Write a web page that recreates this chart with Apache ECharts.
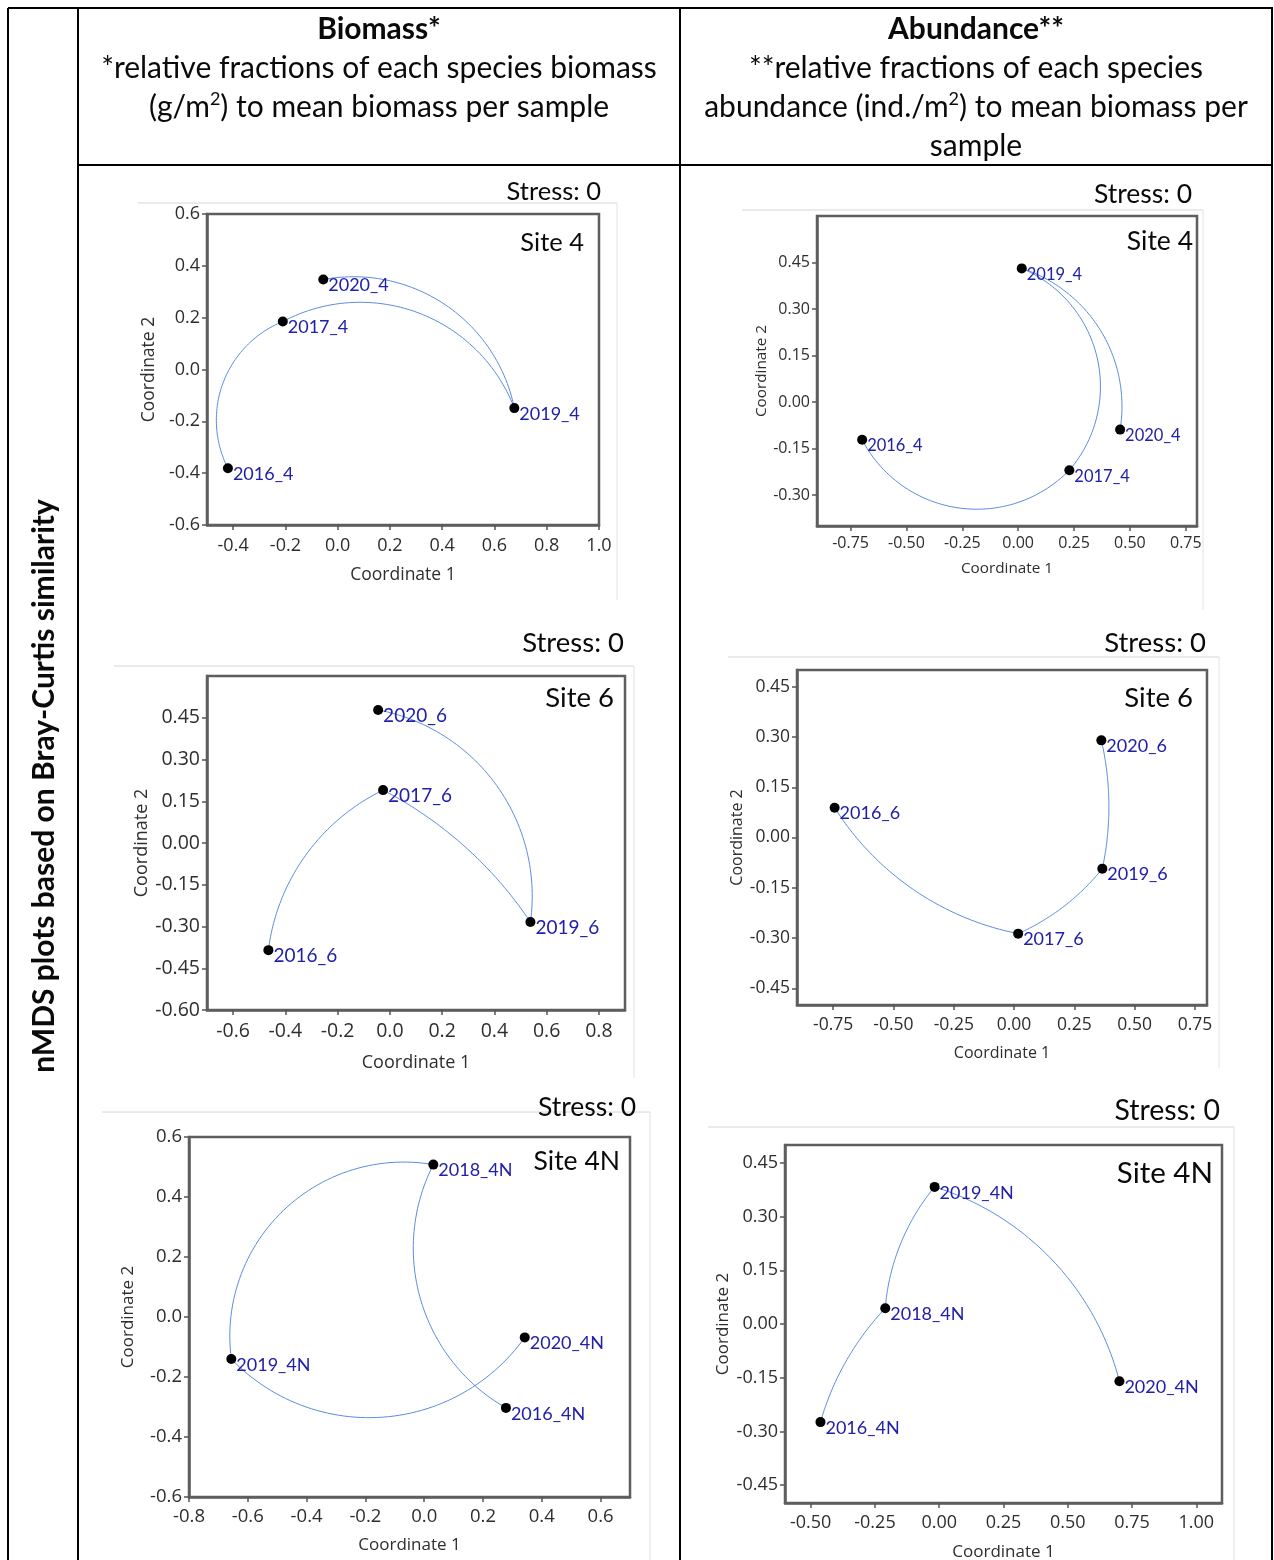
<!DOCTYPE html>
<html>
<head>
<meta charset="utf-8">
<script src="https://cdn.jsdelivr.net/npm/echarts@6/dist/echarts.min.js"></script>
<style>
  html, body { margin: 0; padding: 0; background: #ffffff; }
  #chart { width: 1274px; height: 1560px; }
</style>
</head>
<body>
<div id="chart"></div>
<script>
// ---------- nMDS ordination scores (Bray-Curtis) ----------

// Biomass, Site 4
const bio4Samples = ['2016_4', '2017_4', '2019_4', '2020_4'];
const bio4Coord1  = [-0.420, -0.210, 0.676, -0.055];
const bio4Coord2  = [-0.381,  0.185, -0.149, 0.347];
const bio4Links   = [['2016_4', '2017_4'], ['2017_4', '2019_4'], ['2020_4', '2019_4']];
const bio4XTicks  = ['-0.4', '-0.2', '0.0', '0.2', '0.4', '0.6', '0.8', '1.0'];
const bio4YTicks  = ['-0.6', '-0.4', '-0.2', '0.0', '0.2', '0.4', '0.6'];

// Abundance, Site 4
const abu4Samples = ['2016_4', '2017_4', '2019_4', '2020_4'];
const abu4Coord1  = [-0.698, 0.229, 0.016, 0.456];
const abu4Coord2  = [-0.122, -0.220, 0.431, -0.089];
const abu4Links   = [['2019_4', '2017_4'], ['2019_4', '2020_4'], ['2016_4', '2017_4']];
const abu4XTicks  = ['-0.75', '-0.50', '-0.25', '0.00', '0.25', '0.50', '0.75'];
const abu4YTicks  = ['-0.30', '-0.15', '0.00', '0.15', '0.30', '0.45'];

// Biomass, Site 6
const bio6Samples = ['2016_6', '2017_6', '2019_6', '2020_6'];
const bio6Coord1  = [-0.465, -0.026, 0.538, -0.045];
const bio6Coord2  = [-0.385,  0.190, -0.284, 0.478];
const bio6Links   = [['2016_6', '2017_6'], ['2017_6', '2019_6'], ['2020_6', '2019_6']];
const bio6XTicks  = ['-0.6', '-0.4', '-0.2', '0.0', '0.2', '0.4', '0.6', '0.8'];
const bio6YTicks  = ['-0.60', '-0.45', '-0.30', '-0.15', '0.00', '0.15', '0.30', '0.45'];

// Abundance, Site 6
const abu6Samples = ['2016_6', '2017_6', '2019_6', '2020_6'];
const abu6Coord1  = [-0.744, 0.017, 0.366, 0.362];
const abu6Coord2  = [ 0.089, -0.287, -0.093, 0.290];
const abu6Links   = [['2020_6', '2019_6'], ['2019_6', '2017_6'], ['2016_6', '2017_6']];
const abu6XTicks  = ['-0.75', '-0.50', '-0.25', '0.00', '0.25', '0.50', '0.75'];
const abu6YTicks  = ['-0.45', '-0.30', '-0.15', '0.00', '0.15', '0.30', '0.45'];

// Biomass, Site 4N
const bio4NSamples = ['2016_4N', '2018_4N', '2019_4N', '2020_4N'];
const bio4NCoord1  = [0.278, 0.031, -0.656, 0.342];
const bio4NCoord2  = [-0.303, 0.508, -0.140, -0.068];
const bio4NLinks   = [['2018_4N', '2019_4N'], ['2018_4N', '2016_4N'], ['2019_4N', '2020_4N']];
const bio4NXTicks  = ['-0.8', '-0.6', '-0.4', '-0.2', '0.0', '0.2', '0.4', '0.6'];
const bio4NYTicks  = ['-0.6', '-0.4', '-0.2', '0.0', '0.2', '0.4', '0.6'];

// Abundance, Site 4N
const abu4NSamples = ['2016_4N', '2018_4N', '2019_4N', '2020_4N'];
const abu4NCoord1  = [-0.462, -0.210, -0.018, 0.701];
const abu4NCoord2  = [-0.274,  0.044,  0.383, -0.160];
const abu4NLinks   = [['2016_4N', '2018_4N'], ['2018_4N', '2019_4N'], ['2019_4N', '2020_4N']];
const abu4NXTicks  = ['-0.50', '-0.25', '0.00', '0.25', '0.50', '0.75', '1.00'];
const abu4NYTicks  = ['-0.45', '-0.30', '-0.15', '0.00', '0.15', '0.30', '0.45'];

// ---------- layout and style of the six panels ----------
const FRAME = '#5e5e5e';
const TICK_TEXT = '#2e2e2e';
const POINT_TEXT = '#2020a8';
const LINK_COLOR = '#5b8de0';
const SANS = 'Lato, "Open Sans", sans-serif';
const AXIS_SANS = '"Open Sans", "Noto Sans", sans-serif';

const panels = [
  { samples: bio4Samples, c1: bio4Coord1, c2: bio4Coord2, links: bio4Links, xTicks: bio4XTicks, yTicks: bio4YTicks,
    bends: [0.22, 0.225, 0.205], site: 'Site 4',
    left: 207, top: 214, width: 392, height: 311, xRange: [-0.5, 1.0], yRange: [-0.6, 0.6],
    tickFont: 18, nameFont: 17.5, xGap: 41, yGap: 49, xMargin: 12, pointFont: 18,
    stress: [601, 192, 25.5], siteText: [584, 243, 25.5], edge: [138, 203, 617, 600] },
  { samples: abu4Samples, c1: abu4Coord1, c2: abu4Coord2, links: abu4Links, xTicks: abu4XTicks, yTicks: abu4YTicks,
    bends: [0.255, 0.185, -0.255], site: 'Site 4',
    left: 817, top: 216, width: 380, height: 310, xRange: [-0.9, 0.8], yRange: [-0.4, 0.6],
    tickFont: 16, nameFont: 15.3, xGap: 35, yGap: 44, xMargin: 9, pointFont: 16.5,
    stress: [1192, 194, 26.5], siteText: [1193, 241, 26.5], edge: [742, 210, 1203, 610] },
  { samples: bio6Samples, c1: bio6Coord1, c2: bio6Coord2, links: bio6Links, xTicks: bio6XTicks, yTicks: bio6YTicks,
    bends: [0.127, 0.063, 0.2], site: 'Site 6',
    left: 207, top: 676, width: 418, height: 334, xRange: [-0.7, 0.9], yRange: [-0.6, 0.6],
    tickFont: 19.5, nameFont: 18, xGap: 44, yGap: 56, xMargin: 11, pointFont: 19,
    stress: [624, 643, 27.5], siteText: [614, 698, 27.5], edge: [114, 666, 634, 1078] },
  { samples: abu6Samples, c1: abu6Coord1, c2: abu6Coord2, links: abu6Links, xTicks: abu6XTicks, yTicks: abu6YTicks,
    bends: [0.055, 0.06, -0.103], site: 'Site 6',
    left: 797, top: 670, width: 410, height: 335, xRange: [-0.9, 0.8], yRange: [-0.5, 0.5],
    tickFont: 17.5, nameFont: 16, xGap: 40, yGap: 48, xMargin: 11, pointFont: 18,
    stress: [1206, 643, 27.5], siteText: [1193, 698, 27.5], edge: [728, 657, 1219, 1068] },
  { samples: bio4NSamples, c1: bio4NCoord1, c2: bio4NCoord2, links: bio4NLinks, xTicks: bio4NXTicks, yTicks: bio4NYTicks,
    bends: [-0.253, -0.2, -0.235], site: 'Site 4N',
    left: 189, top: 1137, width: 441, height: 360, xRange: [-0.8, 0.7], yRange: [-0.6, 0.6],
    tickFont: 18.5, nameFont: 17, xGap: 40, yGap: 52, xMargin: 10, pointFont: 18,
    stress: [636, 1107, 26.5], siteText: [620, 1161, 26.5], edge: [102, 1112, 650, 1560] },
  { samples: abu4NSamples, c1: abu4NCoord1, c2: abu4NCoord2, links: abu4NLinks, xTicks: abu4NXTicks, yTicks: abu4NYTicks,
    bends: [0.06, 0.077, 0.13], site: 'Site 4N',
    left: 785, top: 1145, width: 437, height: 358, xRange: [-0.6, 1.1], yRange: [-0.5, 0.5],
    tickFont: 18, nameFont: 17, xGap: 41, yGap: 53, xMargin: 11, pointFont: 18,
    stress: [1220, 1111, 28.5], siteText: [1213, 1173, 29.5], edge: [708, 1127, 1234, 1560] }
];

// Circular arc between two sample points; bend = sagitta / chord length,
// positive bends bulge to the left of the drawing direction on screen.
function renderArc(params, api) {
  const p1 = api.coord([api.value(0), api.value(1)]);
  const p2 = api.coord([api.value(2), api.value(3)]);
  const bend = api.value(4);
  const dx = p2[0] - p1[0], dy = p2[1] - p1[1];
  const L = Math.hypot(dx, dy);
  const s = bend * L;
  let points;
  if (Math.abs(s) < 0.5) {
    points = [p1, p2];
  } else {
    const sg = s > 0 ? 1 : -1;
    const nx = sg * dy / L, ny = -sg * dx / L;
    const h = Math.abs(s);
    const R = (L * L / 4 + h * h) / (2 * h);
    const mx = (p1[0] + p2[0]) / 2, my = (p1[1] + p2[1]) / 2;
    const cx = mx + nx * (h - R), cy = my + ny * (h - R);
    const ax = mx + nx * h, ay = my + ny * h;
    const a1 = Math.atan2(p1[1] - cy, p1[0] - cx);
    const am = Math.atan2(ay - cy, ax - cx);
    let half = am - a1;
    while (half > Math.PI) half -= 2 * Math.PI;
    while (half <= -Math.PI) half += 2 * Math.PI;
    const sweep = 2 * half;
    const N = 60;
    points = [];
    for (let k = 0; k <= N; k++) {
      const a = a1 + sweep * k / N;
      points.push([cx + R * Math.cos(a), cy + R * Math.sin(a)]);
    }
  }
  return {
    type: 'polyline',
    shape: { points: points },
    style: { stroke: LINK_COLOR, lineWidth: 1, fill: null },
    silent: true
  };
}

function tickFormatter(labels) {
  const vals = labels.map(Number);
  return function (v) {
    const i = vals.findIndex(t => Math.abs(t - v) < 1e-9);
    return i >= 0 ? labels[i] : '';
  };
}

const grids = [], xAxes = [], yAxes = [], series = [], graphics = [];

panels.forEach((p, i) => {
  grids.push({
    left: p.left, top: p.top, width: p.width, height: p.height,
    containLabel: false, outerBoundsMode: 'none',
    show: true, borderColor: FRAME, borderWidth: 2.5, backgroundColor: '#ffffff'
  });
  const xv = p.xTicks.map(Number), yv = p.yTicks.map(Number);
  xAxes.push({
    gridIndex: i, type: 'value', min: p.xRange[0], max: p.xRange[1],
    name: 'Coordinate 1', nameLocation: 'middle', nameGap: p.xGap,
    nameTextStyle: { fontFamily: AXIS_SANS, fontSize: p.nameFont, color: TICK_TEXT },
    axisLine: { show: true, onZero: false, lineStyle: { color: FRAME, width: 2.5 } },
    axisTick: { show: true, customValues: xv, length: 5, lineStyle: { color: '#555555', width: 1.5 } },
    axisLabel: { customValues: xv, formatter: tickFormatter(p.xTicks), fontFamily: AXIS_SANS,
                 fontSize: p.tickFont, color: TICK_TEXT, margin: p.xMargin },
    splitLine: { show: false }
  });
  yAxes.push({
    gridIndex: i, type: 'value', min: p.yRange[0], max: p.yRange[1],
    name: 'Coordinate 2', nameLocation: 'middle', nameGap: p.yGap, nameRotate: 90,
    nameTextStyle: { fontFamily: AXIS_SANS, fontSize: p.nameFont, color: TICK_TEXT },
    axisLine: { show: true, onZero: false, lineStyle: { color: FRAME, width: 2.5 } },
    axisTick: { show: true, customValues: yv, length: 5, lineStyle: { color: '#555555', width: 1.5 } },
    axisLabel: { customValues: yv, formatter: tickFormatter(p.yTicks), fontFamily: AXIS_SANS,
                 fontSize: p.tickFont, color: TICK_TEXT, margin: 7 },
    splitLine: { show: false }
  });

  const idx = name => p.samples.indexOf(name);
  series.push({
    type: 'custom', xAxisIndex: i, yAxisIndex: i, silent: true, z: 2,
    renderItem: renderArc,
    encode: { x: [0, 2], y: [1, 3] },
    data: p.links.map((lk, k) => {
      const a = idx(lk[0]), b = idx(lk[1]);
      return [p.c1[a], p.c2[a], p.c1[b], p.c2[b], p.bends[k]];
    })
  });
  series.push({
    type: 'scatter', xAxisIndex: i, yAxisIndex: i, z: 3, silent: true,
    symbol: 'circle', symbolSize: 10,
    itemStyle: { color: '#000000', opacity: 1 },
    label: {
      show: true, formatter: '{b}', position: 'right', distance: 0, offset: [0, 6],
      color: POINT_TEXT, fontFamily: SANS, fontSize: p.pointFont
    },
    data: p.samples.map((n, k) => ({ name: n, value: [p.c1[k], p.c2[k]] }))
  });

  // faint outline of each plot's canvas
  const e = p.edge;
  graphics.push({ type: 'line', silent: true, z: 0,
    shape: { x1: e[0], y1: e[1], x2: e[2], y2: e[1] }, style: { stroke: '#d6d6d6', lineWidth: 1 } });
  graphics.push({ type: 'line', silent: true, z: 0,
    shape: { x1: e[2], y1: e[1], x2: e[2], y2: e[3] }, style: { stroke: '#e2e2e2', lineWidth: 1 } });

  graphics.push({ type: 'text', silent: true, z: 10,
    style: { text: 'Stress: 0', x: p.stress[0], y: p.stress[1], align: 'right', verticalAlign: 'middle',
             fontFamily: SANS, fontSize: p.stress[2], fill: '#0a0a0a' } });
  graphics.push({ type: 'text', silent: true, z: 10,
    style: { text: p.site, x: p.siteText[0], y: p.siteText[1], align: 'right', verticalAlign: 'middle',
             fontFamily: SANS, fontSize: p.siteText[2], fill: '#0a0a0a' } });
});

// ---------- table frame ----------
const TABLE = [
  [8, 8, 1273, 8],
  [8, 8, 8, 1560],
  [78, 8, 78, 1560],
  [680, 8, 680, 1560],
  [1272, 8, 1272, 1560],
  [78, 165, 1272, 165]
];
TABLE.forEach(t => graphics.push({ type: 'line', silent: true, z: 20,
  shape: { x1: t[0], y1: t[1], x2: t[2], y2: t[3] }, style: { stroke: '#000000', lineWidth: 2 } }));

// ---------- column headers ----------
const HEAD_SIZE = 30;
const supRich = { sup: { fontSize: 18, fontFamily: SANS, padding: [0, 0, 15, 0], fill: '#0a0a0a' } };
function headText(text, x, y, bold) {
  graphics.push({ type: 'text', silent: true, z: 10,
    style: { text: text, x: x, y: y, align: 'center', verticalAlign: 'middle',
             fontFamily: SANS, fontSize: HEAD_SIZE, fontWeight: bold ? 'bold' : 'normal',
             fill: '#0a0a0a', rich: supRich } });
}
headText('Biomass*', 379, 29, true);
headText('*relative fractions of each species biomass', 379, 68, false);
headText('(g/m{sup|2}) to mean biomass per sample', 379, 107, false);
headText('Abundance**', 976, 29, true);
headText('**relative fractions of each species', 976, 68, false);
headText('abundance (ind./m{sup|2}) to mean biomass per', 976, 107, false);
headText('sample', 976, 146, false);

graphics.push({ type: 'text', silent: true, z: 10, x: 44, y: 786, rotation: Math.PI / 2,
  style: { text: 'nMDS plots based on Bray-Curtis similarity', x: 0, y: 0, align: 'center', verticalAlign: 'middle',
           fontFamily: SANS, fontSize: 30, fontWeight: 'bold', fill: '#0a0a0a' } });

const chart = echarts.init(document.getElementById('chart'), null, { renderer: 'canvas' });
chart.setOption({
  animation: false,
  backgroundColor: '#ffffff',
  grid: grids,
  xAxis: xAxes,
  yAxis: yAxes,
  series: series,
  graphic: graphics
});
</script>
</body>
</html>
